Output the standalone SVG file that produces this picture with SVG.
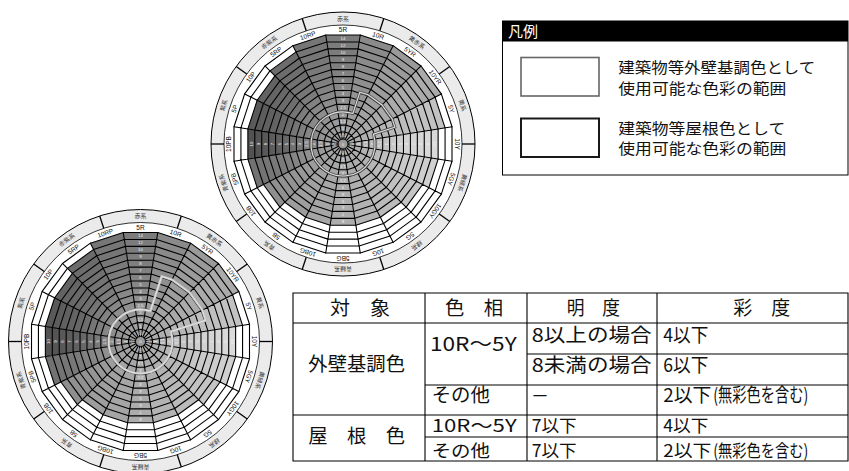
<svg xmlns="http://www.w3.org/2000/svg" xmlns:xlink="http://www.w3.org/1999/xlink" width="849" height="471" viewBox="0 0 849 471">
<style>
.ln{fill:none;stroke:#000;stroke-width:1.1;stroke-linecap:round}
.hl{font-family:"Liberation Sans",Arial,sans-serif;font-size:6.5px;text-anchor:middle;fill:#111}
.gl{font-family:"Noto Sans CJK JP",sans-serif;font-size:6px;text-anchor:middle;fill:#333}
.nm{font-family:"Liberation Sans",Arial,sans-serif;font-size:4.3px;text-anchor:middle;fill:#f2f2f2}
.tk{stroke:#000;stroke-width:1.3}
.t{font-family:"Noto Sans CJK JP",sans-serif;font-size:19px;fill:#111}
.t2{font-family:"Noto Sans CJK JP",sans-serif;font-size:17.5px;fill:#111}
.lg{font-family:"Noto Sans CJK JP",sans-serif;font-size:15px;fill:#111}
.tb{stroke:#000;stroke-width:1.1;fill:none}
</style>
<defs>
<radialGradient id="cg"><stop offset="0" stop-color="#a8a8a8" stop-opacity="1"/><stop offset="0.36" stop-color="#a8a8a8" stop-opacity="0.56"/><stop offset="0.63" stop-color="#a8a8a8" stop-opacity="0.17"/><stop offset="0.9" stop-color="#a8a8a8" stop-opacity="0"/></radialGradient>
<path id="tz" d="M-0.792,-5L0.792,-5L17.264,-109L-17.264,-109Z"/>
<path id="w1" fill="#fff" d="M-16.166,-102.07L16.166,-102.07L17.264,-109L-17.264,-109Z"/>
<path id="w2" fill="#fff" d="M-15.067,-95.13L15.067,-95.13L17.264,-109L-17.264,-109Z"/>
<path id="w3" fill="#fff" d="M-13.970,-88.2L13.970,-88.2L17.264,-109L-17.264,-109Z"/>
<path id="w4" fill="#fff" d="M-12.872,-81.27L12.872,-81.27L17.264,-109L-17.264,-109Z"/>
<path id="sec" class="ln" d="M-0.792,-5L-17.264,-109M-1.890,-11.93H1.890M-2.989,-18.87H2.989M-4.086,-25.8H4.086M-5.184,-32.73H5.184M-6.283,-39.67H6.283M-7.381,-46.6H7.381M-8.478,-53.53H8.478M-9.577,-60.47H9.577M-10.675,-67.4H10.675M-11.773,-74.33H11.773M-12.872,-81.27H12.872M-13.970,-88.2H13.970M-15.067,-95.13H15.067M-16.166,-102.07H16.166M-17.264,-109H17.264"/>
<line id="tick" class="tk" x1="0" y1="-119" x2="0" y2="-132"/>
<path id="roofp" d="M9.889,-30.434L16.842,-51.832L25.051,-49.165L39.017,-39.017L49.165,-25.051L51.832,-16.842L30.434,-9.889A32,32 0 1 1 9.889,-30.434Z"/>
<path id="wallp" d="M9.889,-30.434L21.168,-65.147L31.486,-61.795L49.041,-49.041L61.795,-31.486L65.147,-21.168L30.434,-9.889A32,32 0 1 1 9.889,-30.434Z"/>
<g id="n11" class="nm">
<text y="-6.97" font-size="3">0.5</text><text y="-13.9">1</text><text y="-20.83">1.5</text><text y="-27.77">2</text><text y="-34.7">2.5</text><text y="-41.63">3</text><text y="-48.57">4</text><text y="-55.5">5</text><text y="-62.43">6</text><text y="-69.37">7</text><text y="-76.3">8</text>
</g>
<g id="n13"><use href="#n11"/><text class="nm" y="-83.23">9</text><text class="nm" y="-90.17">10</text></g>
<g id="n15"><use href="#n13"/><text class="nm" y="-97.1">12</text><text class="nm" y="-104.03">14</text></g>
<g id="wheel">
<g id="fills">
<use href="#tz" fill="#7c7c7c"/>
<use href="#tz" transform="rotate(18)" fill="#8a8a8a"/>
<use href="#tz" transform="rotate(36)" fill="#9a9a9a"/>
<use href="#tz" transform="rotate(54)" fill="#ababab"/>
<use href="#tz" transform="rotate(72)" fill="#c2c2c2"/>
<use href="#tz" transform="rotate(90)" fill="#dadada"/>
<use href="#tz" transform="rotate(108)" fill="#d0d0d0"/>
<use href="#tz" transform="rotate(126)" fill="#c6c6c6"/>
<use href="#tz" transform="rotate(144)" fill="#bdbdbd"/>
<use href="#tz" transform="rotate(162)" fill="#b5b5b5"/>
<use href="#tz" transform="rotate(180)" fill="#adadad"/>
<use href="#tz" transform="rotate(198)" fill="#a5a5a5"/>
<use href="#tz" transform="rotate(216)" fill="#9c9c9c"/>
<use href="#tz" transform="rotate(234)" fill="#8e8e8e"/>
<use href="#tz" transform="rotate(252)" fill="#727272"/>
<use href="#tz" transform="rotate(270)" fill="#525252"/>
<use href="#tz" transform="rotate(288)" fill="#5a5a5a"/>
<use href="#tz" transform="rotate(306)" fill="#636363"/>
<use href="#tz" transform="rotate(324)" fill="#6c6c6c"/>
<use href="#tz" transform="rotate(342)" fill="#767676"/>
</g>
<circle r="100" fill="url(#cg)"/>
<g id="whites">
<use href="#w1" transform="rotate(72)"/>
<use href="#w2" transform="rotate(90)"/>
<use href="#w2" transform="rotate(108)"/>
<use href="#w3" transform="rotate(126)"/>
<use href="#w4" transform="rotate(144)"/>
<use href="#w4" transform="rotate(162)"/>
<use href="#w4" transform="rotate(180)"/>
<use href="#w4" transform="rotate(198)"/>
<use href="#w4" transform="rotate(216)"/>
<use href="#w3" transform="rotate(234)"/>
<use href="#w2" transform="rotate(252)"/>
<use href="#w2" transform="rotate(270)"/>
<use href="#w2" transform="rotate(288)"/>
<use href="#w2" transform="rotate(306)"/>
<use href="#w1" transform="rotate(324)"/>
</g>
<g id="grid">
<use href="#sec"/>
<use href="#sec" transform="rotate(18)"/>
<use href="#sec" transform="rotate(36)"/>
<use href="#sec" transform="rotate(54)"/>
<use href="#sec" transform="rotate(72)"/>
<use href="#sec" transform="rotate(90)"/>
<use href="#sec" transform="rotate(108)"/>
<use href="#sec" transform="rotate(126)"/>
<use href="#sec" transform="rotate(144)"/>
<use href="#sec" transform="rotate(162)"/>
<use href="#sec" transform="rotate(180)"/>
<use href="#sec" transform="rotate(198)"/>
<use href="#sec" transform="rotate(216)"/>
<use href="#sec" transform="rotate(234)"/>
<use href="#sec" transform="rotate(252)"/>
<use href="#sec" transform="rotate(270)"/>
<use href="#sec" transform="rotate(288)"/>
<use href="#sec" transform="rotate(306)"/>
<use href="#sec" transform="rotate(324)"/>
<use href="#sec" transform="rotate(342)"/>
</g>
<circle r="5" fill="#9a9a9a" stroke="#000" stroke-width="1"/>
<text class="nm" y="1.5">0</text>
<use href="#n15"/>
<use href="#n13" transform="rotate(90)"/>
<use href="#n11" transform="rotate(180)"/>
<use href="#n13" transform="rotate(270)"/>
<g id="hues" class="hl">
<text y="-111.7">5R</text>
<text y="-111.7" transform="rotate(18)">10R</text>
<text y="-111.7" transform="rotate(36)">5YR</text>
<text y="-111.7" transform="rotate(54)">10YR</text>
<text y="-111.7" transform="rotate(72)">5Y</text>
<text y="-111.7" transform="rotate(90)">10Y</text>
<text y="-111.7" transform="rotate(108)">5GY</text>
<text y="-111.7" transform="rotate(126)">10GY</text>
<text y="-111.7" transform="rotate(144)">5G</text>
<text y="-111.7" transform="rotate(162)">10G</text>
<text y="-111.7" transform="rotate(180)">5BG</text>
<text y="-111.7" transform="rotate(198)">10BG</text>
<text y="-111.7" transform="rotate(216)">5B</text>
<text y="-111.7" transform="rotate(234)">10B</text>
<text y="-111.7" transform="rotate(252)">5PB</text>
<text y="-111.7" transform="rotate(270)">10PB</text>
<text y="-111.7" transform="rotate(288)">5P</text>
<text y="-111.7" transform="rotate(306)">10P</text>
<text y="-111.7" transform="rotate(324)">5RP</text>
<text y="-111.7" transform="rotate(342)">10RP</text>
</g>
<circle r="125.5" fill="none" stroke="#ebebeb" stroke-width="13"/>
<circle r="119" fill="none" stroke="#000" stroke-width="0.8"/>
<circle r="132" fill="none" stroke="#000" stroke-width="1"/>
<use href="#tick" transform="rotate(18)"/>
<use href="#tick" transform="rotate(54)"/>
<use href="#tick" transform="rotate(90)"/>
<use href="#tick" transform="rotate(126)"/>
<use href="#tick" transform="rotate(162)"/>
<use href="#tick" transform="rotate(198)"/>
<use href="#tick" transform="rotate(234)"/>
<use href="#tick" transform="rotate(270)"/>
<use href="#tick" transform="rotate(306)"/>
<use href="#tick" transform="rotate(342)"/>
<g id="groups" class="gl">
<text y="-123.3">赤系</text>
<text y="-123.3" transform="rotate(36)">黄赤系</text>
<text y="-123.3" transform="rotate(72)">黄系</text>
<text y="-123.3" transform="rotate(108)">黄緑系</text>
<text y="-123.3" transform="rotate(144)">緑系</text>
<text y="-123.3" transform="rotate(180)">青緑系</text>
<text y="-123.3" transform="rotate(216)">青系</text>
<text y="-123.3" transform="rotate(252)">青紫系</text>
<text y="-123.3" transform="rotate(288)">紫系</text>
<text y="-123.3" transform="rotate(324)">赤紫系</text>
</g>
</g>
</defs>

<g id="wheel-top" transform="translate(343,144)">
<use href="#wheel"/>
<g id="roof-range" fill="none">
<use href="#roofp" stroke="#505050" stroke-width="2.8"/>
<use href="#roofp" stroke="#e2e2e2" stroke-width="1.1"/>
</g>
</g>

<g id="wheel-bottom" transform="translate(140.5,341.5)">
<use href="#wheel"/>
<g id="wall-range" fill="none">
<use href="#wallp" stroke="#bdbdbd" stroke-width="2.6"/>
<use href="#wallp" stroke="#f0f0f0" stroke-width="0.8"/>
</g>
</g>

<g id="legend">
<rect x="502.5" y="21" width="345.5" height="154" fill="#fff" stroke="#000" stroke-width="1"/>
<rect x="502.5" y="21" width="345.5" height="20.5" fill="#000"/>
<text x="508" y="37" class="lg" style="fill:#fff">凡例</text>
<rect x="521" y="57.5" width="78" height="38.5" fill="#fff" stroke="#666" stroke-width="1.6"/>
<text class="lg" x="618.3" y="72.5" textLength="197" lengthAdjust="spacingAndGlyphs">建築物等外壁基調色として</text>
<text class="lg" x="618.3" y="94" textLength="168" lengthAdjust="spacingAndGlyphs">使用可能な色彩の範囲</text>
<rect x="521" y="118.5" width="78" height="38.5" fill="#fff" stroke="#1a1a1a" stroke-width="2"/>
<text class="lg" x="618.3" y="134" textLength="167" lengthAdjust="spacingAndGlyphs">建築物等屋根色として</text>
<text class="lg" x="618.3" y="154" textLength="168" lengthAdjust="spacingAndGlyphs">使用可能な色彩の範囲</text>
</g>

<g id="table">
<path class="tb" d="M293,293H848V461H293Z"/>
<path class="tb" d="M293,323H848M527,354H848M425,385H848M293,415H848M425,437H848M425,293V461M527,293V461M657,293V461"/>
<text class="t" x="330" y="314.7" textLength="60" lengthAdjust="spacingAndGlyphs">対　象</text>
<text class="t" x="445" y="314.7" textLength="58" lengthAdjust="spacingAndGlyphs">色　相</text>
<text class="t" x="566.7" y="314.7" textLength="53.3" lengthAdjust="spacingAndGlyphs">明　度</text>
<text class="t" x="733.3" y="314.7" textLength="57" lengthAdjust="spacingAndGlyphs">彩　度</text>
<text class="t" x="308.3" y="370.5" textLength="96.7" lengthAdjust="spacingAndGlyphs">外壁基調色</text>
<text class="t" x="430" y="351" textLength="86.7" lengthAdjust="spacingAndGlyphs">10R～5Y</text>
<text class="t" x="531.7" y="341.5" textLength="120" lengthAdjust="spacingAndGlyphs">8以上の場合</text>
<text class="t" x="663.3" y="341.5" textLength="45" lengthAdjust="spacingAndGlyphs">4以下</text>
<text class="t" x="531.7" y="372" textLength="120" lengthAdjust="spacingAndGlyphs">8未満の場合</text>
<text class="t" x="663.3" y="372" textLength="45" lengthAdjust="spacingAndGlyphs">6以下</text>
<text class="t" x="431.7" y="402" textLength="58.3" lengthAdjust="spacingAndGlyphs">その他</text>
<text class="t" x="531" y="403" textLength="18" lengthAdjust="spacingAndGlyphs">－</text>
<text class="t" x="663.3" y="402" textLength="48" lengthAdjust="spacingAndGlyphs">2以下</text>
<text class="t" x="713.3" y="402" font-size="17" textLength="95" lengthAdjust="spacingAndGlyphs">(無彩色を含む)</text>
<text class="t" x="308.3" y="443" textLength="96.7" lengthAdjust="spacingAndGlyphs">屋　根　色</text>
<text class="t2" x="431.7" y="432" textLength="85" lengthAdjust="spacingAndGlyphs">10R～5Y</text>
<text class="t2" x="531.7" y="432" textLength="45" lengthAdjust="spacingAndGlyphs">7以下</text>
<text class="t2" x="663.3" y="432" textLength="45" lengthAdjust="spacingAndGlyphs">4以下</text>
<text class="t2" x="431.7" y="457" textLength="58.3" lengthAdjust="spacingAndGlyphs">その他</text>
<text class="t2" x="531.7" y="457" textLength="45" lengthAdjust="spacingAndGlyphs">7以下</text>
<text class="t2" x="663.3" y="457" textLength="48" lengthAdjust="spacingAndGlyphs">2以下</text>
<text class="t2" x="713.3" y="457" font-size="16" textLength="95" lengthAdjust="spacingAndGlyphs">(無彩色を含む)</text>
</g>
</svg>
